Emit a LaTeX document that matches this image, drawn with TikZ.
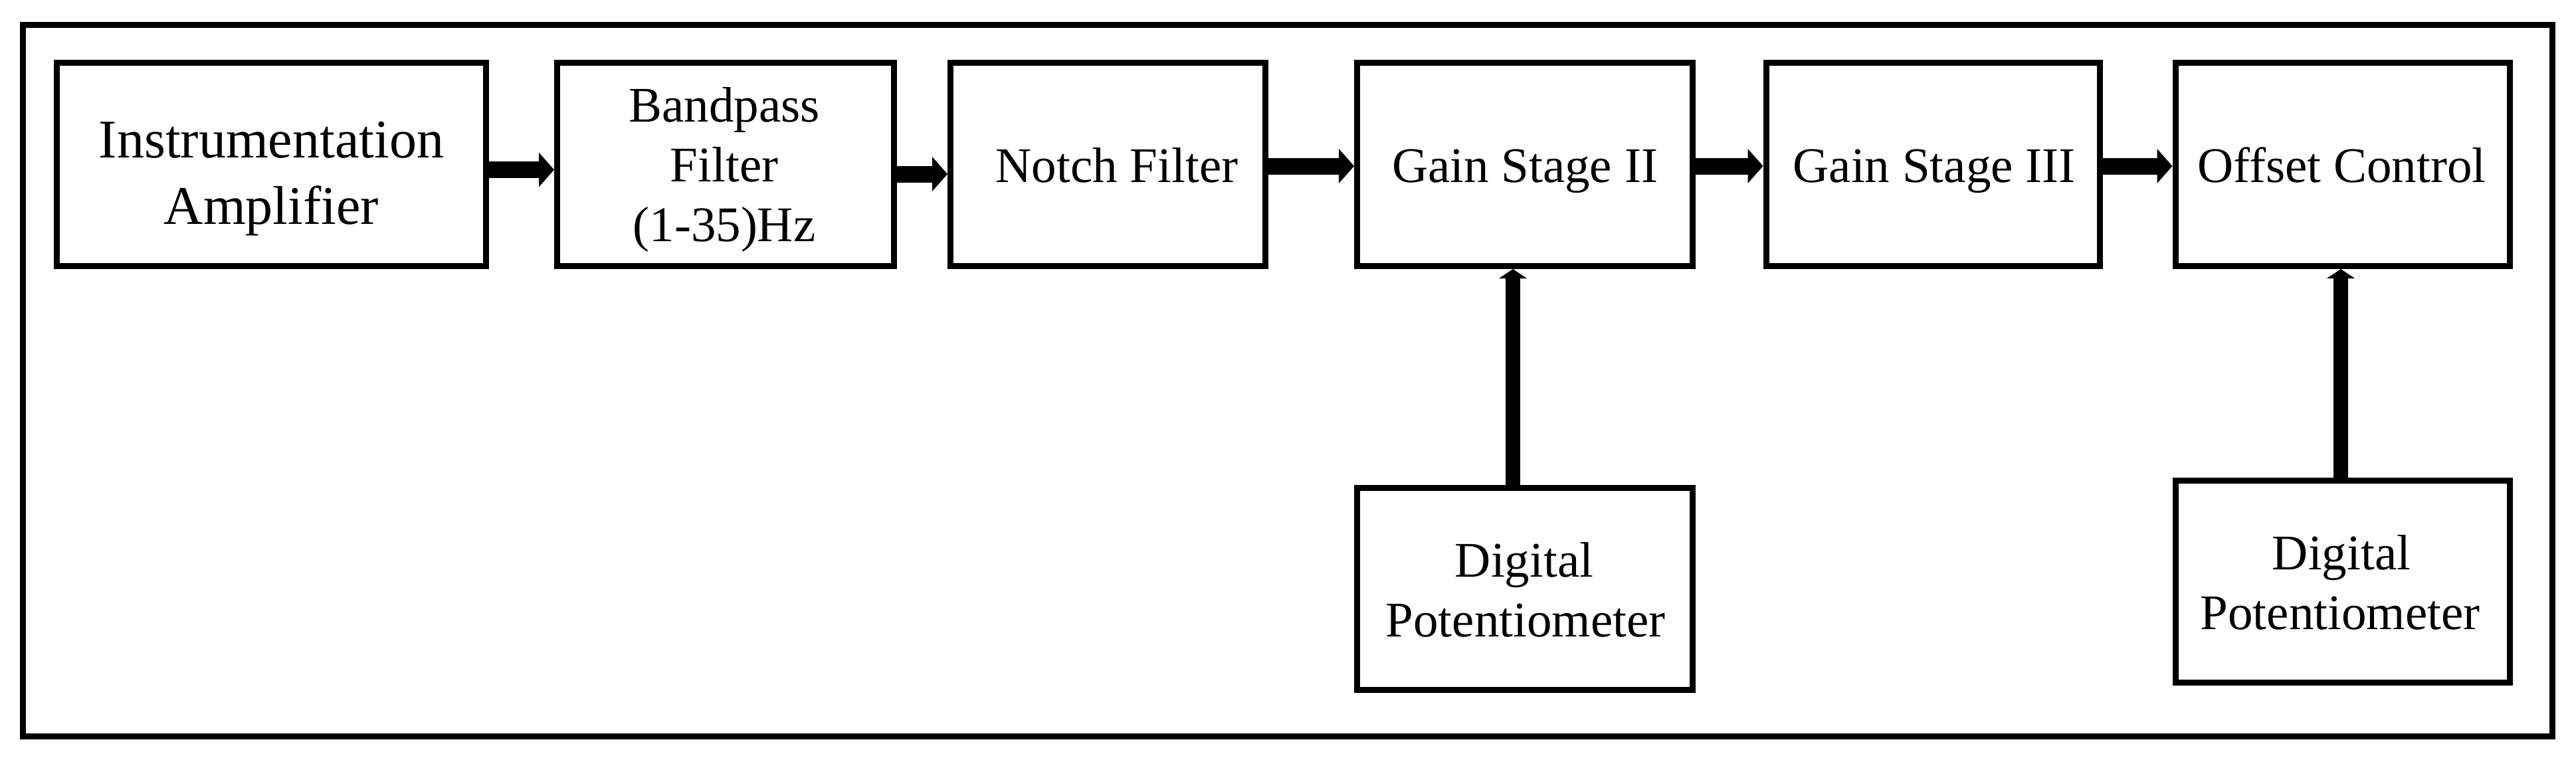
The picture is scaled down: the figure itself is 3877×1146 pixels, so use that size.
\documentclass[tikz,border=0pt]{standalone}
\usepackage{fontspec}
\setmainfont{Liberation Serif}
\usetikzlibrary{arrows.meta}
\begin{document}
\begin{tikzpicture}[x=0.25pt,y=-0.25pt,
  box/.style={draw, line width=2.25pt, inner sep=0pt, minimum height=76.5pt},
  lbl/.style={anchor=base, inner sep=0pt, font=\fontsize{18.75pt}{22.5pt}\selectfont},
  biglbl/.style={anchor=base, inner sep=0pt, font=\fontsize{20.5pt}{25pt}\selectfont},
  harrow/.style={line width=6.25pt, -{Triangle[length=5.75pt,width=13pt,line width=0pt]}},
  varrow/.style={line width=5.3pt, -{Triangle[length=3.5pt,width=10.5pt,line width=0pt]}}]

\useasboundingbox (0,0) rectangle (3877,1146);
\draw[line width=2.25pt] (34.5,37.5) rectangle (3841,1108);

% boxes
\node[box, minimum width=161.5pt]   (ia)  at (408.5,247.5)   {};
\node[box, minimum width=126.625pt] (bp)  at (1091.75,247.5) {};
\node[box, minimum width=118.375pt] (nf)  at (1667.25,247.5) {};
\node[box, minimum width=126.125pt] (g2)  at (2294.75,247.5) {};
\node[box, minimum width=125.5pt]   (g3)  at (2909,247.5)    {};
\node[box, minimum width=125.75pt]  (oc)  at (3525.5,247.5)  {};
\node[box, minimum width=126.125pt, minimum height=75.875pt] (dp1) at (2294.75,886.25) {};
\node[box, minimum width=125.75pt,  minimum height=76.125pt] (dp2) at (3525.5,875.25)  {};

% labels
\node[biglbl] (ia1) at (408.5,237) {Instrumentation};
\node[biglbl] (ia2) at (408.5,337) {Amplifier};
\node[lbl] (bp1) at (1090,183) {Bandpass};
\node[lbl] (bp2) at (1090,273) {Filter};
\node[lbl] (bp3) at (1090,363) {(1-35)Hz};
\node[lbl] (nf1) at (1681,274) {Notch Filter};
\node[lbl] (g21) at (2295,274) {Gain Stage II};
\node[lbl] (g31) at (2911,274) {Gain Stage III};
\node[lbl] (oc1) at (3524.5,274) {Offset Control};
\node[lbl] (dp11) at (2294,868) {Digital};
\node[lbl] (dp12) at (2296,958) {Potentiometer};
\node[lbl] (dp21) at (3524,857) {Digital};
\node[lbl] (dp22) at (3522,947) {Potentiometer};

% connectors
\draw[harrow] ([yshift=-2pt]ia.east) -- ([yshift=-2pt]bp.west);
\draw[harrow] ([yshift=-3.625pt]bp.east) -- ([yshift=-3.625pt]nf.west);
\draw[harrow] ([yshift=-0.625pt]nf.east) -- ([yshift=-0.625pt]g2.west);
\draw[harrow] ([yshift=-0.625pt]g2.east) -- ([yshift=-0.625pt]g3.west);
\draw[harrow] ([yshift=-0.625pt]g3.east) -- ([yshift=-0.625pt]oc.west);
\draw[varrow] ([xshift=-4.44pt]dp1.north) -- ([xshift=-4.44pt]g2.south);
\draw[varrow] ([xshift=-0.625pt]dp2.north) -- ([xshift=-0.625pt]oc.south);
\end{tikzpicture}
\end{document}
